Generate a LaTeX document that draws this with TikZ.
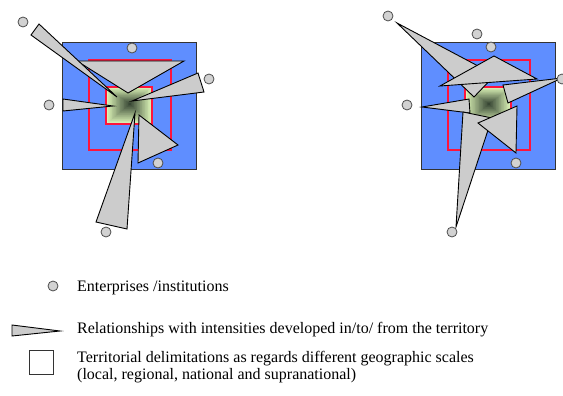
\documentclass[tikz,border=0pt]{standalone}
\usepackage{fontspec}
\setmainfont{Liberation Serif}
\usetikzlibrary{calc}
\definecolor{territoryblue}{RGB}{95,142,255}
\definecolor{relgray}{RGB}{204,204,204}
\definecolor{firmgray}{RGB}{210,210,210}
\definecolor{scalered}{RGB}{255,20,60}
\definecolor{corelight}{RGB}{224,248,186}
\definecolor{coredark}{RGB}{55,70,52}
\tikzset{
  national/.style={fill=territoryblue, draw=black!80, line width=0.8pt},
  regional/.style={draw=scalered, line width=1.2pt},
  localcore/.style={draw=scalered, line width=1.4pt},
  relation/.style={fill=relgray, draw=black, line width=0.9pt},
  firm/.style={
    circle,
    minimum size=10pt,
    inner sep=0pt,
    fill=firmgray,
    draw=black!70,
    line width=0.8pt
  },
  keytext/.style={
    anchor=west,
    inner sep=0pt,
    align=left,
    font=\fontsize{16}{17}\selectfont
  }
}
\newcommand{\drawTerritory}{%
  % national and regional scale
  \draw[national] (62,42) rectangle (196,169);
  \draw[regional] (89,60) rectangle (171,150);
  % local scale, darker towards the core
  \foreach \i in {0,...,29}{
    \pgfmathsetmacro{\t}{\i/30}
    \pgfmathtruncatemacro{\p}{100*\i/29}
    \fill[coredark!\p!corelight]
      ($(106,87)!\t!(130,104)$) rectangle ($(152,124)!\t!(130,104)$);
  }
  \draw[localcore] (106,87) rectangle (152,124);
}

\begin{document}
\begin{tikzpicture}[x=1pt,y=-1pt]

  \def\W{563}
  \def\H{396}
  \path[use as bounding box] (0,0) rectangle (\W,\H);

  % before<<<
  \begin{scope}
    \drawTerritory

    \draw[relation] (77,61) -- (184,61) -- (128,93) -- cycle;
    \draw[relation] (31,35) -- (39,24) -- (117,97) -- cycle;
    \draw[relation] (198,73) -- (204,92) -- (132,101) -- cycle;
    \draw[relation] (63,99) -- (63,111) -- (113,106) -- cycle;
    \draw[relation] (139,115) -- (178,145) -- (138,163) -- cycle;
    \draw[relation] (135,113) -- (96,222) -- (127,229) -- cycle;

    \node[firm] (b1) at (23,22) {};
    \node[firm] (b2) at (132,48) {};
    \node[firm] (b3) at (209,79) {};
    \node[firm] (b4) at (49,105) {};
    \node[firm] (b5) at (158,163) {};
    \node[firm] (b6) at (106,232) {};
  \end{scope}% >>>

  % after<<<
  \begin{scope}[shift={(359,0)}]
    \drawTerritory

    \draw[relation] (38,23) -- (115,97) -- (136,75) -- cycle;
    \draw[relation] (81,86) -- (135,56) -- (178,79) -- cycle;
    \draw[relation] (144,85) -- (149,103) -- (203,78) -- cycle;
    \draw[relation] (63,107) -- (110,99) -- (111,113) -- cycle;
    \draw[relation] (97,227) -- (104,112) -- (133,118) -- cycle;
    \draw[relation] (119,123) -- (158,106) -- (157,153) -- cycle;

    \node[firm] (c1) at (29,16) {};
    \node[firm] (c2) at (118,34) {};
    \node[firm] (c3) at (132,47) {};
    \node[firm] (c4) at (48,105) {};
    \node[firm] (c5) at (157,163) {};
    \node[firm] (c6) at (93,232) {};
    \node[firm] (c7) at (203,79) {};
  \end{scope}% >>>

  % key<<<
  \node[firm] (keyfirm) at (53,286) {};
  \node[keytext] (keyfirmtext) at (77,288) {Enterprises /institutions};

  \draw[relation] (12,325) -- (12,336) -- (60,331) -- cycle;
  \node[keytext] (keyreltext) at (77,330)
    {Relationships with intensities developed in/to/ from the territory};

  \draw[draw=black!80, line width=0.8pt, fill=white] (29,350) rectangle (53,374);
  \node[keytext] (keyscaletext) at (77,367.5)
    {Territorial delimitations as regards different geographic scales\\
     (local, regional, national and supranational)};
  % >>>

\end{tikzpicture}
\end{document}
